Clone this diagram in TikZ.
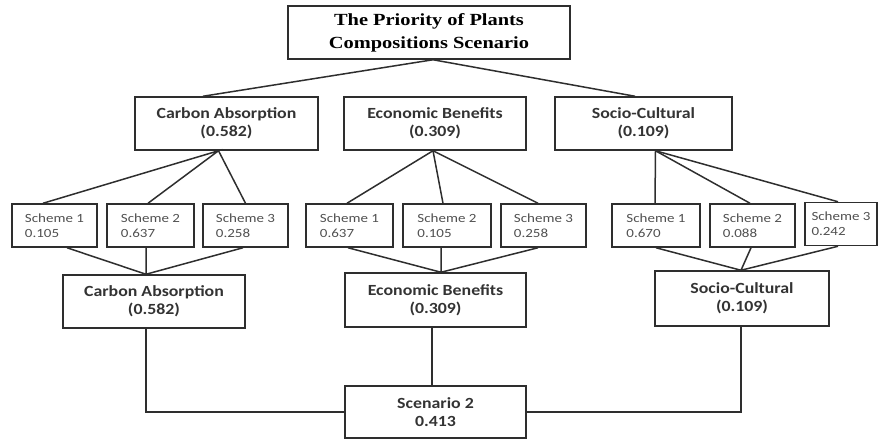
\documentclass[tikz,border=0pt]{standalone}
\usepackage{fontspec}
\newfontfamily\titlefont{Liberation Serif}[FakeStretch=1.2]
\newfontfamily\rowfont{Carlito}[FakeStretch=1.15]
\newfontfamily\schfont{Carlito}[FakeStretch=1.2]
\definecolor{linec}{HTML}{2E2E2E}
\definecolor{rowtext}{HTML}{333333}
\definecolor{schtext}{HTML}{505050}
\tikzset{
  box/.style={draw=linec, line width=1.5pt, rectangle, align=center, inner sep=2pt},
  titlebox/.style={box, font=\titlefont\bfseries\fontsize{17}{23}\selectfont, text=black, minimum height=53pt},
  rowbox/.style={box, font=\rowfont\bfseries\fontsize{15.5}{18}\selectfont, text=rowtext},
  schbox/.style={box, align=left, font=\schfont\fontsize{12.5}{15}\selectfont, text=schtext, minimum height=43pt, minimum width=#1},
  link/.style={draw=linec, line width=1.5pt}
}
\begin{document}
\begin{tikzpicture}[x=1pt,y=-1pt]
\useasboundingbox (0,0) rectangle (878,440);
% top
\node[titlebox, minimum width=282pt] (title) at (429,32.5) {The Priority of Plants\\Compositions Scenario};
% criteria
\node[rowbox, minimum width=183pt, minimum height=53pt] (ca) at (226.5,123.5) {Carbon Absorption\\(0.582)};
\node[rowbox, minimum width=182pt, minimum height=53pt] (eb) at (435,123.5) {Economic Benefits\\(0.309)};
\node[rowbox, minimum width=177pt, minimum height=53pt] (sc) at (643.5,123.5) {Socio-Cultural\\(0.109)};
% schemes
\node[schbox=85pt] (cs1) at (54.5,225.5) {Scheme 1\\0.105};
\node[schbox=87pt] (cs2) at (150.5,225.5) {Scheme 2\\0.637};
\node[schbox=85pt] (cs3) at (245.5,225.5) {Scheme 3\\0.258};
\node[schbox=87pt] (es1) at (349.5,225.5) {Scheme 1\\0.637};
\node[schbox=88pt] (es2) at (447,225.5) {Scheme 2\\0.105};
\node[schbox=85pt] (es3) at (543.5,225.5) {Scheme 3\\0.258};
\node[schbox=88pt] (ss1) at (656,225.5) {Scheme 1\\0.670};
\node[schbox=85pt] (ss2) at (752.5,225.5) {Scheme 2\\0.088};
\node[schbox=72pt] (ss3) at (841,224) {Scheme 3\\0.242};
% aggregated
\node[rowbox, minimum width=182pt, minimum height=53pt] (ca2) at (154,301.5) {Carbon Absorption\\(0.582)};
\node[rowbox, minimum width=181pt, minimum height=54pt] (eb2) at (435.5,300) {Economic Benefits\\(0.309)};
\node[rowbox, minimum width=174pt, minimum height=55pt] (sc2) at (742,298.5) {Socio-Cultural\\(0.109)};
% scenario
\node[rowbox, minimum width=181pt, minimum height=52pt] (scen) at (435.5,412) {Scenario 2\\0.413};
% title links
\draw[link] ([xshift=-23.5pt]ca.north) -- ([xshift=4pt]title.south) -- ([xshift=-8.5pt]sc.north);
% criteria to schemes
\draw[link] ([xshift=-11.5pt]cs1.north) -- ([xshift=-8pt]ca.south) -- ([xshift=-2.5pt]cs2.north);
\draw[link] ([xshift=-8pt]ca.south) -- (cs3.north);
\draw[link] ([xshift=-2.5pt]es1.north) -- ([xshift=-2pt]eb.south) -- ([xshift=-4pt]es2.north);
\draw[link] ([xshift=-2pt]eb.south) -- ([xshift=-5.5pt]es3.north);
\draw[link] ([xshift=-1pt]ss1.north) -- ([xshift=12pt]sc.south) -- ([xshift=-2.5pt]ss2.north);
\draw[link] ([xshift=12pt]sc.south) -- ([xshift=-3pt]ss3.north);
% schemes to aggregated
\draw[link] ([xshift=12.5pt]cs1.south) -- ([xshift=-8pt]ca2.north) -- ([xshift=-4.5pt]cs2.south);
\draw[link] ([xshift=-8pt]ca2.north) -- ([xshift=-2.5pt]cs3.south);
\draw[link] ([xshift=-1.5pt]es1.south) -- ([xshift=5.5pt]eb2.north) -- ([xshift=-6pt]es2.south);
\draw[link] ([xshift=5.5pt]eb2.north) -- ([xshift=-5.5pt]es3.south);
\draw[link] (ss1.south) -- ([xshift=-1pt]sc2.north) -- ([xshift=-1.5pt]ss2.south);
\draw[link] ([xshift=-1pt]sc2.north) -- ([xshift=-3pt]ss3.south);
% aggregated to scenario
\draw[link] ([xshift=-8pt]ca2.south) |- (scen.west);
\draw[link] ([xshift=-3.5pt]eb2.south) -- ([xshift=-3.5pt]scen.north);
\draw[link] ([xshift=-1pt]sc2.south) |- (scen.east);
\end{tikzpicture}
\end{document}
